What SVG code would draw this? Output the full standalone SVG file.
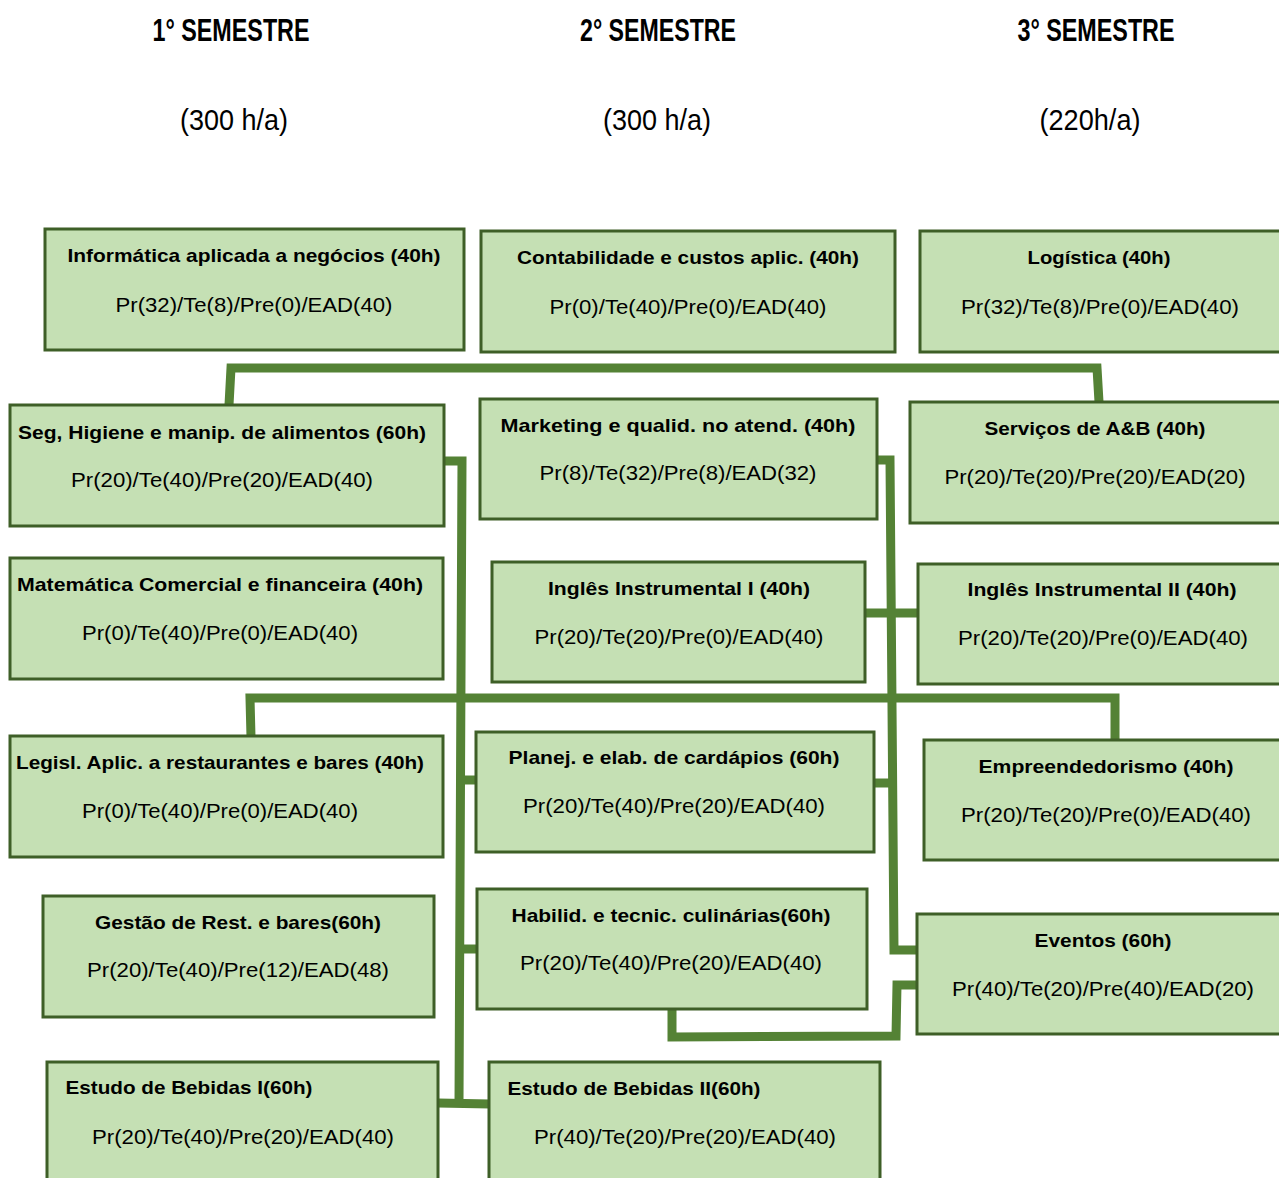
<svg xmlns="http://www.w3.org/2000/svg" width="1279" height="1178" viewBox="0 0 1279 1178">
<style>
.box{fill:#C5E0B4;stroke:#3E5F27;stroke-width:3}
.t{font-family:"Liberation Sans",Arial,sans-serif;font-weight:bold;font-size:19px;fill:#000;text-anchor:middle}
.s{font-family:"Liberation Sans",Arial,sans-serif;font-size:20px;fill:#000;text-anchor:middle}
.h{font-family:"Liberation Sans",Arial,sans-serif;font-weight:bold;font-size:31px;fill:#000;text-anchor:middle}
.ha{font-family:"Liberation Sans",Arial,sans-serif;font-size:30px;fill:#000;text-anchor:middle}
.c{fill:none;stroke:#548235;stroke-width:9;stroke-linejoin:miter}
</style>
<rect width="1279" height="1178" fill="#fff"/>
<g id="headers">
<text class="h" x="231" y="41" textLength="157" lengthAdjust="spacingAndGlyphs">1° SEMESTRE</text>
<text class="h" x="658" y="41" textLength="156" lengthAdjust="spacingAndGlyphs">2° SEMESTRE</text>
<text class="h" x="1096" y="41" textLength="157" lengthAdjust="spacingAndGlyphs">3° SEMESTRE</text>
<text class="ha" x="234" y="130" textLength="108" lengthAdjust="spacingAndGlyphs">(300 h/a)</text>
<text class="ha" x="657" y="130" textLength="108" lengthAdjust="spacingAndGlyphs">(300 h/a)</text>
<text class="ha" x="1090" y="130" textLength="101" lengthAdjust="spacingAndGlyphs">(220h/a)</text>
</g>
<g id="connectors">
<path class="c" d="M229,405 L231,368 L1097,368 L1099,402"/>
<path class="c" d="M444,461 L462,461 L459,1103"/>
<path class="c" d="M438,1103 L490,1104"/>
<path class="c" d="M461,780 L477,780"/>
<path class="c" d="M460,949 L478,949"/>
<path class="c" d="M877,460 L890,460 L894,950 L917,950"/>
<path class="c" d="M874,783 L892,783"/>
<path class="c" d="M865,613 L918,613"/>
<path class="c" d="M251,737 L250,698 L1115,698 L1115,740"/>
<path class="c" d="M672,1009 L672,1037 L896,1036 L897,985 L917,985"/>
</g>
<g id="n1"><rect class="box" x="45" y="229" width="419" height="121"/>
<text class="t" x="254" y="262" textLength="373" lengthAdjust="spacingAndGlyphs">Informática aplicada a negócios (40h)</text>
<text class="s" x="254" y="312" textLength="277" lengthAdjust="spacingAndGlyphs">Pr(32)/Te(8)/Pre(0)/EAD(40)</text></g>
<g id="n2"><rect class="box" x="481" y="231" width="414" height="121"/>
<text class="t" x="688" y="264" textLength="342" lengthAdjust="spacingAndGlyphs">Contabilidade e custos aplic. (40h)</text>
<text class="s" x="688" y="314" textLength="277" lengthAdjust="spacingAndGlyphs">Pr(0)/Te(40)/Pre(0)/EAD(40)</text></g>
<g id="n3"><rect class="box" x="920" y="231" width="362" height="121"/>
<text class="t" x="1099" y="264" textLength="143" lengthAdjust="spacingAndGlyphs">Logística (40h)</text>
<text class="s" x="1100" y="314" textLength="278" lengthAdjust="spacingAndGlyphs">Pr(32)/Te(8)/Pre(0)/EAD(40)</text></g>
<g id="n4"><rect class="box" x="10" y="405" width="434" height="121"/>
<text class="t" x="222" y="439" textLength="408" lengthAdjust="spacingAndGlyphs">Seg, Higiene e manip. de alimentos (60h)</text>
<text class="s" x="222" y="487" textLength="302" lengthAdjust="spacingAndGlyphs">Pr(20)/Te(40)/Pre(20)/EAD(40)</text></g>
<g id="n5"><rect class="box" x="480" y="399" width="397" height="120"/>
<text class="t" x="678" y="432" textLength="355" lengthAdjust="spacingAndGlyphs">Marketing e qualid. no atend. (40h)</text>
<text class="s" x="678" y="480" textLength="277" lengthAdjust="spacingAndGlyphs">Pr(8)/Te(32)/Pre(8)/EAD(32)</text></g>
<g id="n6"><rect class="box" x="910" y="402" width="372" height="121"/>
<text class="t" x="1095" y="435" textLength="221" lengthAdjust="spacingAndGlyphs">Serviços de A&amp;B (40h)</text>
<text class="s" x="1095" y="484" textLength="301" lengthAdjust="spacingAndGlyphs">Pr(20)/Te(20)/Pre(20)/EAD(20)</text></g>
<g id="n7"><rect class="box" x="10" y="558" width="433" height="121"/>
<text class="t" x="220" y="591" textLength="406" lengthAdjust="spacingAndGlyphs">Matemática Comercial e financeira (40h)</text>
<text class="s" x="220" y="640" textLength="276" lengthAdjust="spacingAndGlyphs">Pr(0)/Te(40)/Pre(0)/EAD(40)</text></g>
<g id="n8"><rect class="box" x="492" y="562" width="373" height="120"/>
<text class="t" x="679" y="595" textLength="262" lengthAdjust="spacingAndGlyphs">Inglês Instrumental I (40h)</text>
<text class="s" x="679" y="644" textLength="289" lengthAdjust="spacingAndGlyphs">Pr(20)/Te(20)/Pre(0)/EAD(40)</text></g>
<g id="n9"><rect class="box" x="918" y="564" width="364" height="120"/>
<text class="t" x="1102" y="596" textLength="269" lengthAdjust="spacingAndGlyphs">Inglês Instrumental II (40h)</text>
<text class="s" x="1103" y="645" textLength="290" lengthAdjust="spacingAndGlyphs">Pr(20)/Te(20)/Pre(0)/EAD(40)</text></g>
<g id="n10"><rect class="box" x="10" y="736" width="433" height="121"/>
<text class="t" x="220" y="769" textLength="408" lengthAdjust="spacingAndGlyphs">Legisl. Aplic. a restaurantes e bares (40h)</text>
<text class="s" x="220" y="818" textLength="276" lengthAdjust="spacingAndGlyphs">Pr(0)/Te(40)/Pre(0)/EAD(40)</text></g>
<g id="n11"><rect class="box" x="476" y="732" width="398" height="120"/>
<text class="t" x="674" y="764" textLength="331" lengthAdjust="spacingAndGlyphs">Planej. e elab. de cardápios (60h)</text>
<text class="s" x="674" y="813" textLength="302" lengthAdjust="spacingAndGlyphs">Pr(20)/Te(40)/Pre(20)/EAD(40)</text></g>
<g id="n12"><rect class="box" x="924" y="740" width="358" height="120"/>
<text class="t" x="1106" y="773" textLength="255" lengthAdjust="spacingAndGlyphs">Empreendedorismo (40h)</text>
<text class="s" x="1106" y="822" textLength="290" lengthAdjust="spacingAndGlyphs">Pr(20)/Te(20)/Pre(0)/EAD(40)</text></g>
<g id="n13"><rect class="box" x="43" y="896" width="391" height="121"/>
<text class="t" x="238" y="929" textLength="286" lengthAdjust="spacingAndGlyphs">Gestão de Rest. e bares(60h)</text>
<text class="s" x="238" y="977" textLength="302" lengthAdjust="spacingAndGlyphs">Pr(20)/Te(40)/Pre(12)/EAD(48)</text></g>
<g id="n14"><rect class="box" x="477" y="889" width="390" height="120"/>
<text class="t" x="671" y="922" textLength="319" lengthAdjust="spacingAndGlyphs">Habilid. e tecnic. culinárias(60h)</text>
<text class="s" x="671" y="970" textLength="302" lengthAdjust="spacingAndGlyphs">Pr(20)/Te(40)/Pre(20)/EAD(40)</text></g>
<g id="n15"><rect class="box" x="917" y="914" width="365" height="120"/>
<text class="t" x="1103" y="947" textLength="137" lengthAdjust="spacingAndGlyphs">Eventos (60h)</text>
<text class="s" x="1103" y="996" textLength="302" lengthAdjust="spacingAndGlyphs">Pr(40)/Te(20)/Pre(40)/EAD(20)</text></g>
<g id="n16"><rect class="box" x="47" y="1062" width="391" height="125"/>
<text class="t" x="189" y="1094" textLength="247" lengthAdjust="spacingAndGlyphs">Estudo de Bebidas I(60h)</text>
<text class="s" x="243" y="1144" textLength="302" lengthAdjust="spacingAndGlyphs">Pr(20)/Te(40)/Pre(20)/EAD(40)</text></g>
<g id="n17"><rect class="box" x="489" y="1062" width="391" height="125"/>
<text class="t" x="634" y="1095" textLength="253" lengthAdjust="spacingAndGlyphs">Estudo de Bebidas II(60h)</text>
<text class="s" x="685" y="1144" textLength="302" lengthAdjust="spacingAndGlyphs">Pr(40)/Te(20)/Pre(20)/EAD(40)</text></g>
</svg>
